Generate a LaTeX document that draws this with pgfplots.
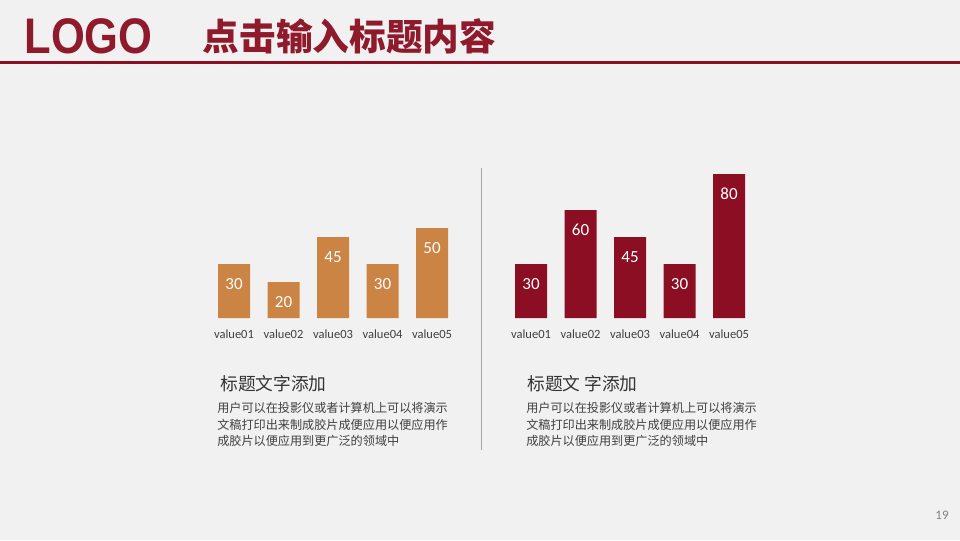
\documentclass[border=0pt]{standalone}
\usepackage{pgfplots}
\pgfplotsset{compat=1.18}
\usepackage{fontspec}
\setmainfont{Carlito}
\newfontfamily\cjk{Noto Sans CJK SC}
\newfontfamily\logofont{Liberation Sans}
\definecolor{bg}{HTML}{F1F1F1}
\definecolor{darkred}{HTML}{8B0E22}
\definecolor{logored}{HTML}{8E1A2C}
\definecolor{orangebar}{HTML}{CC8444}
\definecolor{txt}{HTML}{404040}
\definecolor{ttl}{HTML}{333333}
\pgfplotsset{mybars/.style={
  anchor=south west, scale only axis, width=185.625pt, height=121.5pt,
  xmin=-0.5, xmax=4.5, ymin=0, ymax=90, clip=false,
  axis line style={draw=none}, ytick=\empty, xtick={0,1,2,3,4},
  xticklabels={value01,value02,value03,value04,value05},
  major tick length=0pt, ybar, bar width=24pt,
  /pgf/number format/assume math mode=true,
  xticklabel style={font=\fontsize{9.4}{11}\selectfont, text=txt, yshift=-5.5pt},
  nodes near coords,
  every node near coord/.append style={font=\fontsize{12.75}{14}\selectfont, text=white, anchor=center, yshift=-15pt},
}}
\begin{document}
\begin{tikzpicture}[x=0.75pt,y=-0.75pt]
\useasboundingbox (0,0) rectangle (960,540);
\fill[bg] (0,0) rectangle (960,540);
\node[font=\logofont\bfseries\fontsize{37.5}{40}\selectfont, text=logored, xscale=0.87, inner sep=0] at (88.5,36) {LOGO};
\node[font=\cjk\bfseries\fontsize{27.5}{30}\selectfont, text=logored, inner sep=0] at (349.5,36) {点击输入标题内容};
\fill[darkred] (0,61) rectangle (960,64);
\draw[gray!70, line width=0.75pt] (481,168) -- (481,450);
\begin{axis}[mybars, at={(156.94pt,-238.5pt)}]
\addplot[fill=orangebar, draw=none] coordinates {(0,30) (1,20) (2,45) (3,30) (4,50)};
\end{axis}
\begin{axis}[mybars, at={(379.69pt,-238.5pt)}]
\addplot[fill=darkred, draw=none] coordinates {(0,30) (1,60) (2,45) (3,30) (4,80)};
\end{axis}
\node[font=\cjk\fontsize{13.3}{15}\selectfont, text=ttl, anchor=west, inner sep=0] at (220,384) {标题文字添加};
\node[font=\cjk\fontsize{9.1}{11}\selectfont, text=txt, anchor=west, inner sep=0] at (217,408) {用户可以在投影仪或者计算机上可以将演示};
\node[font=\cjk\fontsize{9.1}{11}\selectfont, text=txt, anchor=west, inner sep=0] at (217,425) {文稿打印出来制成胶片成便应用以便应用作};
\node[font=\cjk\fontsize{9.1}{11}\selectfont, text=txt, anchor=west, inner sep=0] at (217,441) {成胶片以便应用到更广泛的领域中};
\node[font=\cjk\fontsize{13.3}{15}\selectfont, text=ttl, anchor=west, inner sep=0] at (527,384) {标题文 字添加};
\node[font=\cjk\fontsize{9.1}{11}\selectfont, text=txt, anchor=west, inner sep=0] at (526,408) {用户可以在投影仪或者计算机上可以将演示};
\node[font=\cjk\fontsize{9.1}{11}\selectfont, text=txt, anchor=west, inner sep=0] at (526,425) {文稿打印出来制成胶片成便应用以便应用作};
\node[font=\cjk\fontsize{9.1}{11}\selectfont, text=txt, anchor=west, inner sep=0] at (526,441) {成胶片以便应用到更广泛的领域中};
\node[font=\fontsize{9.75}{11}\selectfont, text=gray, inner sep=0] at (942,515) {19};
\end{tikzpicture}
\end{document}
